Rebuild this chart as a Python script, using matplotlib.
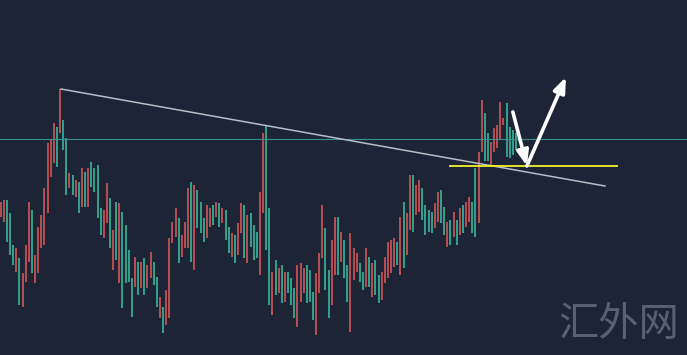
import numpy as np
import matplotlib
matplotlib.use("Agg")
import matplotlib.pyplot as plt

# candle highs / lows (price units) and direction, r = up (red), g = down (teal)
highs = [153, 155, 155, 142, 110, 107, 97, 82, 110, 153, 145, 100, 128, 140, 167, 212, 215, 232, 228, 266, 235,
         217, 182, 180, 175, 173, 187, 183, 187, 193, 187, 190, 147, 145, 172, 157, 125, 153, 152, 143, 130, 105,
         77, 98, 93, 93, 97, 90, 103, 93, 78, 58, 48, 65, 117, 133, 147, 137, 120, 133, 167, 173,
         170, 165, 153, 137, 150, 147, 150, 153, 152, 147, 145, 128, 122, 120, 132, 152, 150, 140, 142, 130, 123,
         163, 222, 230, 147, 83, 95, 87, 90, 83, 83, 77, 67, 90, 92, 87, 90, 85, 63, 82, 102,
         150, 127, 85, 115, 138, 138, 123, 115, 90, 122, 107, 102, 92, 83, 107, 98, 92, 95, 80, 83, 98,
         113, 115, 117, 113, 138, 153, 142, 180, 180, 170, 175, 167, 150, 145, 143, 152, 163, 165, 148, 133,
         135, 143, 135, 147, 150, 153, 158, 153, 187, 203, 255, 242, 222, 213, 227, 230, 253, 237, 252, 228, 225, 222]
lows = [138, 133, 113, 100, 90, 83, 50, 48, 73, 93, 82, 72, 82, 107, 110, 142, 178, 192, 188, 222, 205,
        160, 167, 160, 158, 142, 148, 148, 148, 168, 163, 137, 120, 117, 132, 107, 85, 95, 72, 47, 72, 73,
        38, 68, 60, 67, 60, 67, 77, 70, 48, 37, 22, 30, 37, 112, 118, 92, 98, 107, 107, 93,
        85, 127, 122, 113, 117, 128, 130, 138, 128, 132, 115, 102, 98, 92, 100, 122, 97, 92, 108, 95, 97,
        80, 142, 105, 50, 40, 60, 62, 52, 53, 62, 50, 37, 28, 53, 62, 52, 53, 35, 20, 62,
        97, 65, 37, 50, 80, 80, 93, 77, 53, 23, 75, 83, 73, 65, 68, 68, 58, 60, 52, 55, 72,
        77, 82, 88, 90, 80, 87, 100, 125, 123, 140, 143, 135, 120, 123, 122, 127, 133, 132, 120, 108,
        110, 118, 110, 120, 122, 128, 133, 122, 118, 132, 203, 194, 194, 188, 203, 207, 215, 230, 198, 197, 200, 205]
direction = ("rrgggrgrrrgrrrrrrrgrg" + "grgrgrgrggggrrgrgrggg" + "grgrgrrggrgrrrrgrrrg"
             + "rgggrrgrgrggrgrrgrggg" + "rrggrgrgrgggrrrgggrr"
             + "rggrrgrggrrrggrgrggrr" + "rrrgrgrrgrrggggrrggr" + "grgrgrrggrrggrrrrrgggg")

level_price = 216                 # horizontal teal level
support_price = 189               # yellow support
support_span = (143.9, 197.4)
trend_start = (19.3, 266)
trend_end = (193.5, 169)
arrow_down = [(164.0, 243), (168.5, 189)]
arrow_up = [(168.5, 189), (181.0, 278)]

bg = "#1d2436"
up_col = "#e05a5a"
dn_col = "#36c4a2"

fig = plt.figure(figsize=(6.87, 3.55), dpi=100)
fig.patch.set_facecolor(bg)
ax = fig.add_axes([0, 0, 1, 1])
ax.set_facecolor(bg)

x = np.arange(len(highs))
cols = [up_col if d == "r" else dn_col for d in direction]
ax.vlines(x, lows, highs, colors=cols, linewidth=1.1)

ax.axhline(level_price, color="#3d8c8c", linewidth=0.8)
ax.plot([trend_start[0], trend_end[0]], [trend_start[1], trend_end[1]], color="#b9bdc6", linewidth=1.1)
ax.plot(support_span, [support_price, support_price], color="#f2f22a", linewidth=1.3)

for (x0, y0), (x1, y1) in [arrow_down, arrow_up]:
    ax.annotate("", xy=(x1, y1), xytext=(x0, y0),
                arrowprops=dict(arrowstyle="-|>,head_length=0.9,head_width=0.35", color="white",
                                lw=2.6, shrinkA=0, shrinkB=0))

ax.text(0.90, 0.085, "汇外网", transform=ax.transAxes, ha="center", va="center",
        fontsize=29, color="#59616f", family=["Noto Sans CJK SC", "DejaVu Sans"], fontweight="light")

ax.set_xlim(-0.224, 219.76)
ax.set_ylim(0, 355)
ax.axis("off")

fig.savefig("out.png", dpi=100, facecolor=bg)
